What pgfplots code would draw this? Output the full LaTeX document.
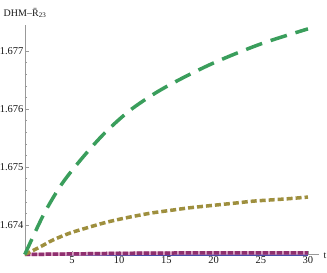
\documentclass[border=0pt]{standalone}
\usepackage{fontspec}
\setmainfont{Liberation Serif}
\usepackage{pgfplots}
\pgfplotsset{compat=1.18}
\definecolor{cgreen}{RGB}{58,158,92}
\definecolor{colive}{RGB}{158,143,62}
\definecolor{cpurple}{RGB}{143,47,111}
\definecolor{cpink}{RGB}{217,160,192}
\definecolor{cblue}{RGB}{74,74,168}
\begin{document}
\begin{tikzpicture}[x=1pt,y=1pt]
\useasboundingbox (0,0) rectangle (327,273);
\begin{axis}[
  scale only axis, width=294.5pt, height=229.7pt,
  at={(24.8pt,18.5pt)}, anchor=south west,
  xmin=0, xmax=31.2, ymin=1.67349, ymax=1.67745,
  axis x line=bottom, axis y line=left,
  axis line style={-, gray!80},
  clip=false,
  tick align=inside,
  major tick length=4pt, minor tick length=2.5pt,
  every tick/.style={gray!80, thin},
  xtick={5,10,15,20,25,30}, minor x tick num=4,
  ytick={1.674,1.675,1.676,1.677}, minor y tick num=4,
  scaled y ticks=false,
  yticklabel style={/pgf/number format/fixed, /pgf/number format/precision=3, /pgf/number format/fixed zerofill, inner sep=1.2pt},
  xticklabel style={inner sep=2pt},
  /pgf/number format/assume math mode=true,
  tick label style={font=\fontsize{10.5}{12}\selectfont, text=black!90},
]
\addplot[cblue, line width=1.8pt] coordinates {(0,1.67348) (30,1.67348)};
\addplot[cpink, line width=3.5pt] coordinates {(0,1.67349) (5,1.67350) (10,1.67351) (20,1.67352) (30,1.67352)};
\addplot[cpurple, line width=3.5pt, dash pattern=on 5pt off 2pt] coordinates {(0,1.67349) (5,1.67350) (10,1.67351) (20,1.67352) (30,1.67352)};
\addplot[colive, line width=3.5pt, dash pattern=on 6pt off 3pt, smooth] coordinates {
(0,1.67349) (1.61,1.67362) (2.99,1.67374) (4.79,1.67386) (6.59,1.67395) (8.28,1.67403)
(10.08,1.67410) (11.9,1.67416) (13.6,1.67421) (15.4,1.67425) (17.2,1.67429) (18.9,1.67432)
(20.7,1.67435) (22.5,1.67438) (24.2,1.67441) (26.0,1.67443) (27.8,1.67445) (30,1.67448)};
\addplot[cgreen, line width=3.5pt, dash pattern=on 17pt off 9pt, smooth] coordinates {
(0,1.67349) (2.03,1.67419) (3.94,1.67471) (6.17,1.67517) (8.5,1.67559) (11.1,1.67597)
(13.9,1.67628) (16.8,1.67654) (19.7,1.67677) (22.6,1.67697) (25.7,1.67716) (30,1.67738)};
\end{axis}
\node[font=\fontsize{10}{12}\selectfont, text=black!90] at (25,260) {DHM–\=R\textsubscript{23}};
\node[font=\fontsize{10}{12}\selectfont, text=black!90] at (325,17) {t};
\end{tikzpicture}
\end{document}
